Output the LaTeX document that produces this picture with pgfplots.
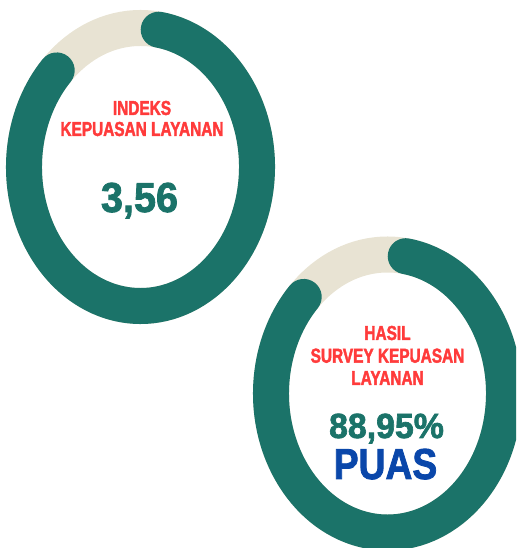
\documentclass[border=0pt]{standalone}
\usepackage{pgfplots}
\pgfplotsset{compat=1.18}
\usepackage{graphicx}
\usepackage{fontspec}
\setmainfont{Liberation Sans}
\newfontfamily\condfont{Liberation Sans Bold}[FakeStretch=0.76, FakeBold=2]
\newfontfamily\numfont{Liberation Sans Bold}[FakeBold=2]

\definecolor{ringteal}{HTML}{1B7369}
\definecolor{ringbg}{HTML}{E8E3D3}
\definecolor{lblred}{HTML}{FF3B3B}
\definecolor{puasblue}{HTML}{0A47AA}

\begin{document}
\begin{tikzpicture}
\clip[use as bounding box] (0,0) rectangle (516pt,548pt);
\begin{axis}[
    at={(0,0)}, anchor=south west,
    width=516pt, height=548pt,
    scale only axis,
    xmin=0, xmax=516, ymin=0, ymax=548,
    hide axis,
    clip=true,
  ]
  % gauge 1: indeks kepuasan layanan (filled part runs clockwise 81 -> -224)
  \draw[ringbg, line width=36pt] (axis cs:140.5,381)
    ellipse[x radius=116.5pt, y radius=139pt];
  \draw[ringteal, line width=36pt, line cap=round] (axis cs:140.5,381)
    ++(81:116.5pt and 139pt) arc[start angle=81, end angle=-224, x radius=116.5pt, y radius=139pt];

  % gauge 2: hasil survey kepuasan layanan
  \draw[ringbg, line width=36pt] (axis cs:387.5,154.5)
    ellipse[x radius=116.5pt, y radius=139pt];
  \draw[ringteal, line width=36pt, line cap=round] (axis cs:387.5,154.5)
    ++(81:116.5pt and 139pt) arc[start angle=81, end angle=-224, x radius=116.5pt, y radius=139pt];

  % labels
  \tikzset{lbl/.style={anchor=base, inner sep=0pt, text=lblred,
      font=\condfont\fontsize{20.25}{20}\selectfont}}
  \node[lbl] at (axis cs:142,433) {INDEKS};
  \node[lbl] at (axis cs:142,412) {KEPUASAN LAYANAN};
  \node[anchor=base, inner sep=0pt, text=ringteal,
    font=\numfont\fontsize{41.9}{42}\selectfont] at (axis cs:139.5,336) {\scalebox{0.945}[1]{3,56}};

  \node[lbl] at (axis cs:387.5,208) {HASIL};
  \node[lbl] at (axis cs:387.5,185.3) {SURVEY KEPUASAN};
  \node[lbl] at (axis cs:387.5,163) {LAYANAN};
  \node[anchor=base, inner sep=0pt, text=ringteal,
    font=\numfont\fontsize{34.9}{35}\selectfont] at (axis cs:386.5,110) {\scalebox{0.97}[1]{88,95\%}};
  \node[anchor=base, inner sep=0pt, text=puasblue,
    font=\numfont\fontsize{43.3}{43}\selectfont] at (axis cs:385.5,69) {\scalebox{0.86}[1]{PUAS}};
\end{axis}
\end{tikzpicture}
\end{document}
